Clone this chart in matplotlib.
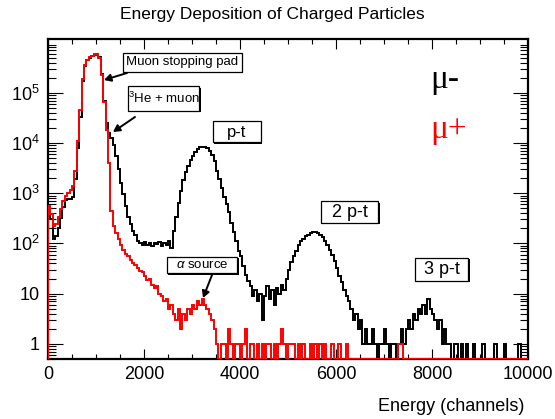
import numpy as np
import matplotlib
matplotlib.use("Agg")
import matplotlib.pyplot as plt
from matplotlib.patches import Rectangle, FancyArrowPatch
from matplotlib.ticker import FixedLocator, LogLocator, NullFormatter, FixedFormatter, MultipleLocator

plt.rcParams['font.family'] = ['Liberation Sans', 'DejaVu Sans']
plt.rcParams['mathtext.fontset'] = 'custom'
plt.rcParams['mathtext.rm'] = 'Liberation Sans'
plt.rcParams['mathtext.it'] = 'Liberation Sans:italic'

# ---- data (counts per 50-channel bin) ----
bin_width = 50
n_bins = 200

mu_minus = [
    520, 300, 120, 140, 200, 320, 520, 740, 760, 780,
    850, 1900, 8000, 33000, 170000, 340000, 440000, 500000, 530000, 570000,
    600000, 510000, 240000, 70000, 25000, 16000, 12500, 9000, 5500, 3000,
    1600, 950, 560, 340, 240, 180, 150, 112, 100, 95,
    105, 92, 100, 88, 102, 96, 108, 90, 104, 95,
    110, 80, 180, 330, 650, 1100, 1800, 2600, 3500, 4500,
    5600, 6600, 7500, 8200, 8500, 8300, 7900, 7000, 5800, 4300,
    2800, 1900, 1250, 850, 620, 420, 260, 170, 110, 72,
    55, 35, 24, 18, 14, 9, 12, 7, 10, 3,
    9, 14, 8, 12, 6, 13, 10, 15, 12, 20,
    30, 42, 55, 72, 92, 110, 125, 140, 150, 160,
    170, 172, 165, 150, 135, 112, 92, 75, 58, 45,
    33, 22, 17, 12, 9, 7, 5, 3, 4, 2,
    3, 1, 2, 1, 1, 2, 1, 0, 1, 1,
    2, 1, 0, 1, 1, 0, 1, 2, 1, 2,
    3, 2, 4, 3, 5, 4, 6, 4, 8, 5,
    4, 3, 2, 3, 1, 2, 1, 1, 0, 1,
    1, 0, 1, 0, 1, 0, 0, 1, 0, 0,
    0, 1, 0, 0, 0, 0, 1, 0, 0, 0,
    1, 0, 0, 0, 0, 0, 1, 0, 0, 0,
]

mu_plus = [
    550, 380, 220, 240, 330, 480, 700, 900, 1000, 1150,
    1400, 2800, 11000, 45000, 190000, 360000, 450000, 510000, 540000, 580000,
    600000, 500000, 230000, 65000, 18000, 4000, 450, 220, 160, 125,
    95, 75, 62, 55, 46, 40, 38, 32, 28, 27,
    22, 19, 20, 15, 13, 14, 10, 9, 7, 8,
    5, 6, 4, 3, 5, 2, 4, 3, 5, 4,
    6, 5, 7, 6, 8, 6, 5, 4, 3, 2,
    1, 0, 1, 1, 0, 2, 1, 0, 1, 1,
    0, 1, 2, 0, 1, 1, 0, 1, 0, 1,
    0, 1, 1, 0, 1, 0, 1, 2, 1, 0,
    1, 1, 1, 0, 1, 0, 1, 0, 0, 1,
    0, 1, 0, 1, 0, 1, 0, 0, 1, 0,
    0, 1, 0, 0, 1, 0, 0, 0, 0, 0,
    0, 0, 0, 0, 0, 0, 0, 0, 0, 0,
    0, 0, 0, 0, 0, 0, 1, 1, 0, 0,
    0, 0, 0, 0, 0, 0, 0, 0, 0, 0,
    0, 0, 0, 0, 0, 0, 0, 0, 0, 0,
    0, 0, 0, 0, 0, 0, 0, 0, 0, 0,
    0, 0, 0, 0, 0, 0, 0, 0, 0, 0,
    0, 0, 0, 0, 0, 0, 0, 0, 0, 0,
]

x_ticks = [0, 2000, 4000, 6000, 8000, 10000]
x_tick_labels = ['0', '2000', '4000', '6000', '8000', '10000']
y_ticks = [1, 10, 1e2, 1e3, 1e4, 1e5]
y_tick_labels = ['1', '10', r'$\mathdefault{10^{2}}$', r'$\mathdefault{10^{3}}$',
                 r'$\mathdefault{10^{4}}$', r'$\mathdefault{10^{5}}$']

title = 'Energy Deposition of Charged Particles'
xlabel = 'Energy (channels)'

edges = np.arange(n_bins + 1) * bin_width
ymin, ymax = 0.5, 1.15e6

W, H = 555, 419
fig = plt.figure(figsize=(W / 100, H / 100), dpi=100)
ax = fig.add_axes([48 / W, (H - 359) / H, 480 / W, 319.5 / H])

def show(v):
    v = np.asarray(v, dtype=float)
    return np.where(v > 0, v, ymin)

ax.stairs(show(mu_minus), edges, baseline=ymin, color='black', lw=1.4, zorder=3)
ax.stairs(show(mu_plus), edges, baseline=ymin, color='#ff0000', lw=1.4, zorder=4)

ax.set_yscale('log')
ax.set_xlim(0, 10000)
ax.set_ylim(ymin, ymax)

ax.xaxis.set_major_locator(FixedLocator(x_ticks))
ax.xaxis.set_major_formatter(FixedFormatter(x_tick_labels))
ax.xaxis.set_minor_locator(MultipleLocator(500))
ax.yaxis.set_major_locator(FixedLocator(y_ticks))
ax.yaxis.set_major_formatter(FixedFormatter(y_tick_labels))
ax.yaxis.set_minor_locator(LogLocator(base=10, subs=np.arange(2, 10)))
ax.yaxis.set_minor_formatter(NullFormatter())

ax.tick_params(axis='both', which='both', direction='in', top=True, right=True,
               width=0.8, color='black')
ax.tick_params(axis='x', which='major', length=7, pad=5, labelsize=13)
ax.tick_params(axis='x', which='minor', length=3.5)
ax.tick_params(axis='y', which='major', length=11, pad=6, labelsize=13)
ax.tick_params(axis='y', which='minor', length=5.5)
for s in ax.spines.values():
    s.set_linewidth(1.6)

fig.text(272 / W, 1 - 15 / H, title, ha='center', va='center', fontsize=12.5)
fig.text(524 / W, 1 - 406 / H, xlabel, ha='right', va='center', fontsize=13)

def px(x, y):
    return (x / W, 1 - y / H)

def label(text, x0, y0, x1, y1, size):
    # shadow
    fig.add_artist(Rectangle(px(x0 + 1.5, y1 + 1.5), (x1 - x0) / W, (y1 - y0) / H,
                             transform=fig.transFigure, fc='black', ec='none', zorder=9))
    fig.add_artist(Rectangle(px(x0, y1), (x1 - x0) / W, (y1 - y0) / H,
                             transform=fig.transFigure, fc='white', ec='black', lw=0.9, zorder=10))
    fig.text((x0 + x1) / 2 / W, 1 - (y0 + y1) / 2 / H, text, ha='center', va='center',
             fontsize=size, zorder=11)

def arrow(x0, y0, x1, y1):
    fig.add_artist(FancyArrowPatch(
        px(x0, y0), px(x1, y1), transform=fig.transFigure,
        arrowstyle='-|>,head_length=4,head_width=2.2', color='black', lw=1.4,
        shrinkA=0, shrinkB=0, zorder=12))

label('Muon stopping pad', 122.5, 52.5, 241.5, 71.5, 9.5)
label(r'$^{\mathdefault{3}}$He + muon', 128, 86.5, 199, 111, 9.5)
label('p-t', 212.5, 121.5, 260.5, 142.5, 12)
label('2 p-t', 321, 201.5, 378, 223, 13)
label('3 p-t', 415, 257.5, 468, 280.5, 13)
label(r'$\alpha$ source', 166.5, 256.5, 237, 273, 9.5)

arrow(127, 73, 104, 80)
arrow(135, 117, 113, 132)
arrow(212, 275, 203, 298)

fig.text(430 / W, 1 - 88 / H, '\u03bc-', ha='left', va='baseline', fontsize=24,
         family=['Liberation Serif', 'DejaVu Serif'], color='black')
fig.text(430 / W, 1 - 138 / H, '\u03bc+', ha='left', va='baseline', fontsize=24,
         family=['Liberation Serif', 'DejaVu Serif'], color='#ff0000')

fig.savefig('out.png', dpi=100)
